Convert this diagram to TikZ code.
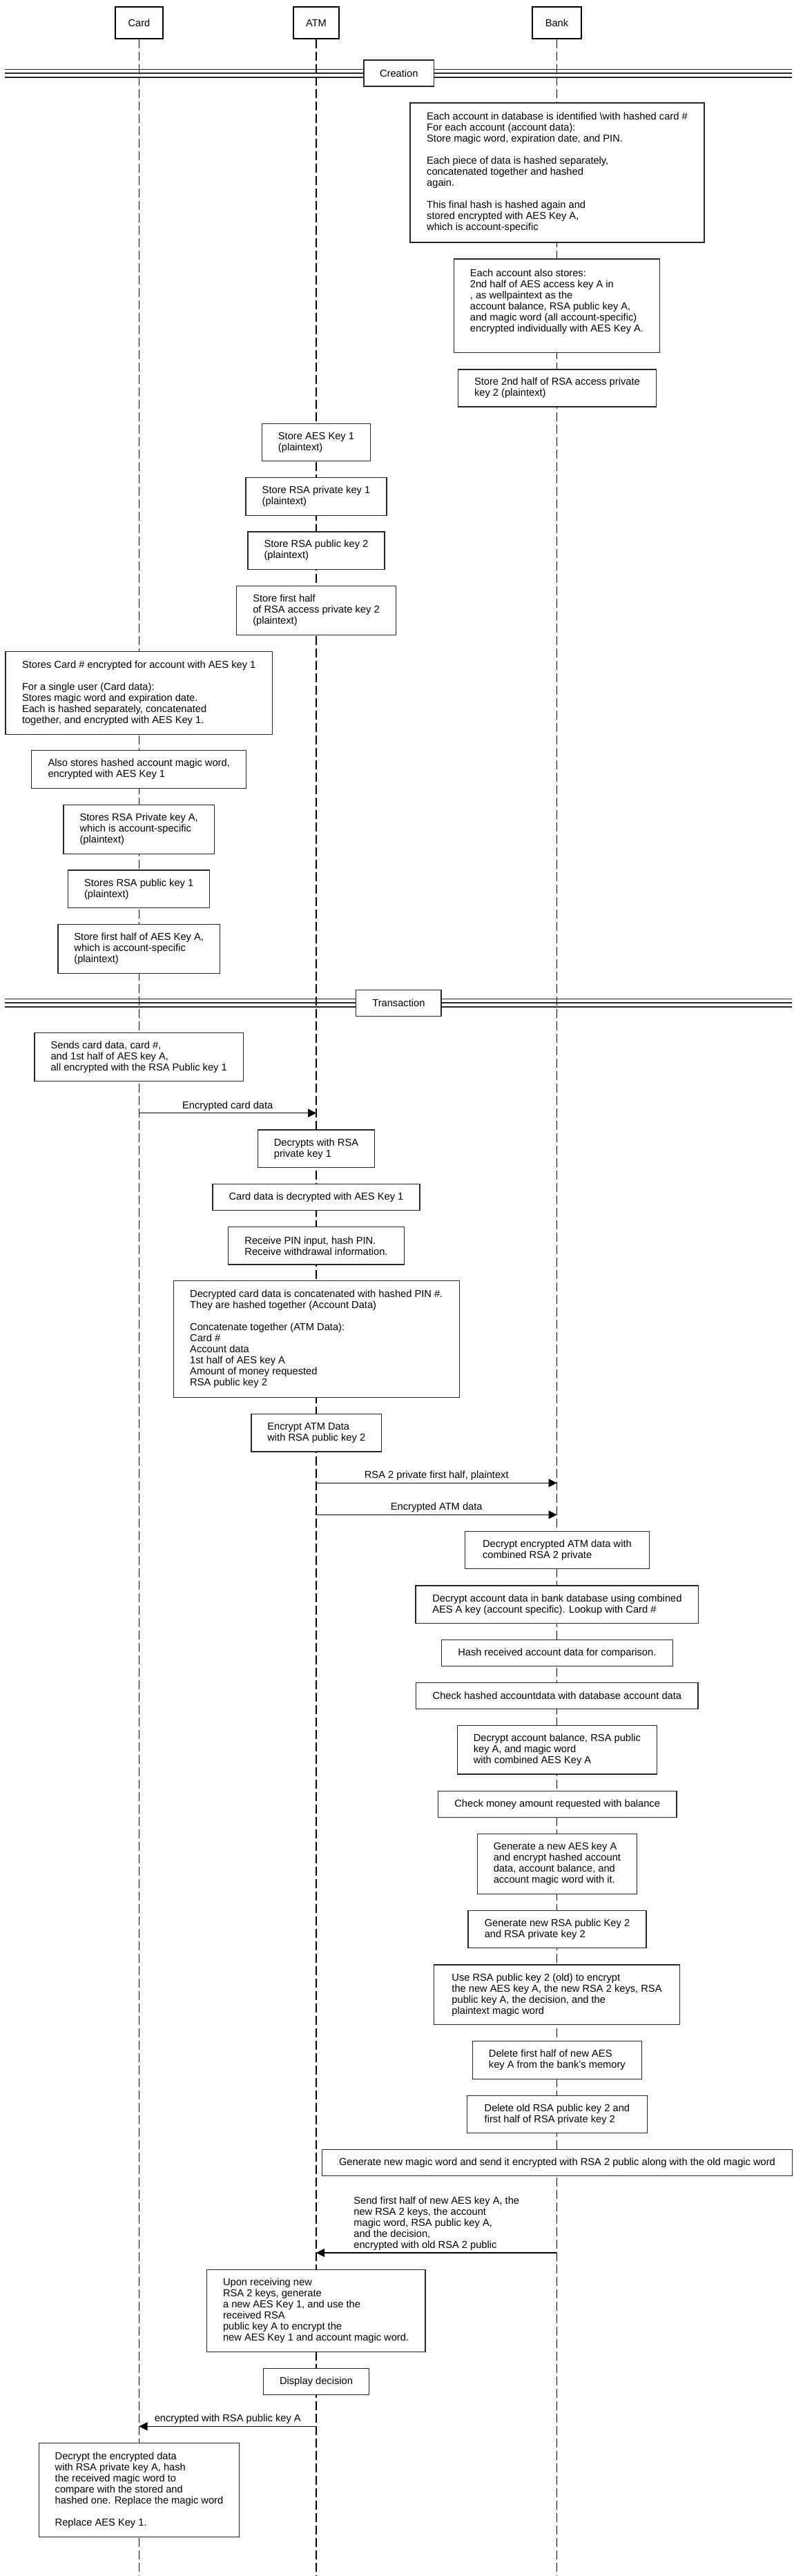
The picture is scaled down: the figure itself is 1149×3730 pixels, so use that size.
\documentclass[tikz,border=0pt]{standalone}
\usepackage{fontspec}
\setmainfont{Liberation Sans}
\usetikzlibrary{arrows.meta}
\begin{document}
\begin{tikzpicture}[x=1pt,y=-1pt,
  every node/.style={font=\fontsize{14.67}{16}\selectfont},
  head/.style={draw=black, line width=2.4pt, fill=white, minimum height=46pt, inner sep=0pt},
  box/.style={draw=black!85, line width=1.3pt, fill=white, align=left, inner xsep=23.5pt, inner ysep=0pt},
  frag/.style={draw=black!85, line width=1.3pt, fill=white, inner sep=0pt},
  life/.style={line width=1.1pt, dash pattern=on 13pt off 5pt},
  msg/.style={line width=1.4pt, -{Triangle[length=12pt,width=12pt]}},
  lbl/.style={anchor=south, inner sep=0pt, align=left},
  divline/.style={line width=1.1pt, black!85}]
\useasboundingbox (0,0) rectangle (1149,3730);
\fill[white] (0,0) rectangle (1149,3730);

% heads
\node[head, minimum width=69pt] (card) at (201.5,33) {Card};
\node[head, minimum width=66pt] (atm) at (458,33) {ATM};
\node[head, minimum width=70.5pt] (bank) at (806.5,33) {Bank};

% lifelines
\coordinate (cardend) at (201.5,3730);
\coordinate (atmend) at (458,3730);
\coordinate (bankend) at (806.5,3730);
\draw[life] (card.south) -- (cardend);
\draw[life] (atm.south) -- (atmend);
\draw[life] (bank.south) -- (bankend);

% Creation divider
\draw[divline] (7,100.7) -- (1147,100.7);
\draw[divline] (7,106) -- (1147,106);
\draw[divline, line width=1.7pt] (7,111.7) -- (1147,111.7);
\node[frag, minimum width=101.6pt, minimum height=38pt] (creation) at (577.8,106) {Creation};

% Bank creation notes
\node[box, minimum width=426pt, minimum height=202pt] (note1) at (807,250) {Each account in database is identified \textbackslash with hashed card \#\\For each account (account data):\\Store magic word, expiration date, and PIN.\\[16pt]Each piece of data is hashed separately,\\concatenated together and hashed\\again.\\[16pt]This final hash is hashed again and\\stored encrypted with AES Key A,\\which is account-specific};
\node[box, minimum width=298.5pt, minimum height=135.7pt] (note2) at (806.5,442.9) {Each account also stores:\\2nd half of AES access key A in\\, as wellpaintext as the\\account balance, RSA public key A,\\and magic word (all account-specific)\\encrypted individually with AES Key A.\\\mbox{}};
\node[box, minimum width=287.4pt, minimum height=54pt] (store2nd) at (806.9,562) {Store 2nd half of RSA access private\\key 2 (plaintext)};

% ATM creation
\node[box, minimum width=157pt, minimum height=53.6pt] (aes1) at (458,640.5) {Store AES Key 1\\(plaintext)};
\node[box, minimum width=204pt, minimum height=54.6pt] (rsapriv1) at (458,719) {Store RSA private key 1\\(plaintext)};
\node[box, minimum width=198pt, minimum height=54.3pt] (rsapub2) at (458,797.2) {Store RSA public key 2\\(plaintext)};
\node[box, minimum width=230.6pt, minimum height=70.6pt] (firsthalf) at (458,884) {Store first half\\of RSA access private key 2\\(plaintext)};

% Card creation
\node[box, minimum width=386.2pt, minimum height=120pt] (cardnum) at (201.2,1003.3) {Stores Card \# encrypted for account with AES key 1\\[16pt]For a single user (Card data):\\Stores magic word and expiration date.\\Each is hashed separately, concatenated\\together, and encrypted with AES Key 1.};
\node[box, minimum width=311pt, minimum height=54.6pt] (alsostores) at (201.2,1114) {Also stores hashed account magic word,\\encrypted with AES Key 1};
\node[box, minimum width=218.3pt, minimum height=71pt] (rsaprivA) at (201.2,1200.8) {Stores RSA Private key A,\\which is account-specific\\(plaintext)};
\node[box, minimum width=205pt, minimum height=54.7pt] (rsapub1) at (201.2,1287.3) {Stores RSA public key 1\\(plaintext)};
\node[box, minimum width=234.3pt, minimum height=70.6pt] (halfA) at (201.2,1374) {Store first half of AES Key A,\\which is account-specific\\(plaintext)};

% Transaction divider
\draw[divline] (7,1446.7) -- (1147,1446.7);
\draw[divline] (7,1452) -- (1147,1452);
\draw[divline, line width=1.7pt] (7,1458) -- (1147,1458);
\node[frag, minimum width=123.2pt, minimum height=38pt] (transaction) at (577.4,1452.3) {Transaction};

% Transaction
\node[box, minimum width=302.2pt, minimum height=70pt] (sends) at (201.2,1530.7) {Sends card data, card \#,\\and 1st half of AES key A,\\all encrypted with the RSA Public key 1};

\coordinate (m1a) at (201.5,1611.7);
\coordinate (m1b) at (458,1611.7);
\draw[msg] (m1a) -- (m1b);
\node[lbl] (l1) at (329.75,1608.3) {Encrypted card data};

\node[box, minimum width=169.5pt, minimum height=54.3pt] (decrsa) at (458,1663.2) {Decrypts with RSA\\private key 1};
\node[box, minimum width=300pt, minimum height=38pt] (cardaes) at (458,1733.3) {Card data is decrypted with AES Key 1};
\node[box, minimum width=254.8pt, minimum height=54.3pt] (pin) at (458,1803.8) {Receive PIN input, hash PIN.\\Receive withdrawal information.};
\node[box, minimum width=414.1pt, minimum height=169pt] (concat) at (458.3,1938.8) {Decrypted card data is concatenated with hashed PIN \#.\\They are hashed together (Account Data)\\[16pt]Concatenate together (ATM Data):\\Card \#\\Account data\\1st half of AES key A\\Amount of money requested\\RSA public key 2};
\node[box, minimum width=188.7pt, minimum height=54.3pt] (encatm) at (458.3,2074.8) {Encrypt ATM Data\\with RSA public key 2};

\coordinate (m2a) at (458,2147.3);
\coordinate (m2b) at (806.5,2147.3);
\draw[msg] (m2a) -- (m2b);
\node[lbl] (l2) at (632.25,2143.8) {RSA 2 private first half, plaintext};

\coordinate (m3a) at (458,2193.3);
\coordinate (m3b) at (806.5,2193.3);
\draw[msg] (m3a) -- (m3b);
\node[lbl] (l3) at (632.25,2189.8) {Encrypted ATM data};

% Bank processing
\node[box, minimum width=266.8pt, minimum height=54.4pt] (decatm) at (806.9,2244.5) {Decrypt encrypted ATM data with\\combined RSA 2 private};
\node[box, minimum width=409.8pt, minimum height=54.3pt] (decacct) at (806.9,2323.2) {Decrypt account data in bank database using combined\\AES A key (account specific). Lookup with Card \#};
\node[box, minimum width=334.6pt, minimum height=38pt] (hashrec) at (806.9,2393.3) {Hash received account data for comparison.};
\node[box, minimum width=408.2pt, minimum height=37.6pt] (checkhash) at (806.9,2455.5) {Check hashed accountdata with database account data};
\node[box, minimum width=288.9pt, minimum height=70.3pt] (decbal) at (806.9,2533.8) {Decrypt account balance, RSA public\\key A, and magic word\\with combined AES Key A};
\node[box, minimum width=345.5pt, minimum height=38pt] (checkmoney) at (807.2,2612.3) {Check money amount requested with balance};
\node[box, minimum width=231.4pt, minimum height=86.6pt] (genaes) at (806.9,2699) {Generate a new AES key A\\and encrypt hashed account\\data, account balance, and\\account magic word with it.};
\node[box, minimum width=258pt, minimum height=54.4pt] (genrsa) at (807,2793.5) {Generate new RSA public Key 2\\and RSA private key 2};
\node[box, minimum width=355.9pt, minimum height=86.7pt] (usersa) at (806.5,2888.3) {Use RSA public key 2 (old) to encrypt\\the new AES key A, the new RSA 2 keys, RSA\\public key A, the decision, and the\\plaintext magic word};
\node[box, minimum width=244.7pt, minimum height=54.6pt] (delhalf) at (806.9,2983) {Delete first half of new AES\\key A from the bank's memory};
\node[box, minimum width=260.9pt, minimum height=54.4pt] (delold) at (806.9,3061.5) {Delete old RSA public key 2 and\\first half of RSA private key 2};
\node[box, minimum width=680.9pt, minimum height=38pt] (genmagic) at (807,3131.7) {Generate new magic word and send it encrypted with RSA 2 public along with the old magic word};

\coordinate (m4a) at (806.5,3262);
\coordinate (m4b) at (458,3262);
\draw[msg] (m4a) -- (m4b);
\node[lbl] (l4) at (632.25,3258.5) {Send first half of new AES key A, the\\new RSA 2 keys, the account\\magic word, RSA public key A,\\and the decision,\\encrypted with old RSA 2 public};

\node[box, minimum width=316.8pt, minimum height=119pt] (upon) at (457.6,3345.8) {Upon receiving new\\RSA 2 keys, generate\\a new AES Key 1, and use the\\received RSA\\public key A to encrypt the\\new AES Key 1 and account magic word.};
\node[box, minimum width=152.6pt, minimum height=38pt] (display) at (458,3448.3) {Display decision};

\coordinate (m5a) at (458,3513.3);
\coordinate (m5b) at (201.5,3513.3);
\draw[msg] (m5a) -- (m5b);
\node[lbl] (l5) at (329.75,3509.8) {encrypted with RSA public key A};

\node[box, minimum width=289.7pt, minimum height=136pt] (final) at (201.5,3605.3) {Decrypt the encrypted data\\with RSA private key A, hash\\the received magic word to\\compare with the stored and\\hashed one. Replace the magic word\\[16pt]Replace AES Key 1.};
\end{tikzpicture}
\end{document}
